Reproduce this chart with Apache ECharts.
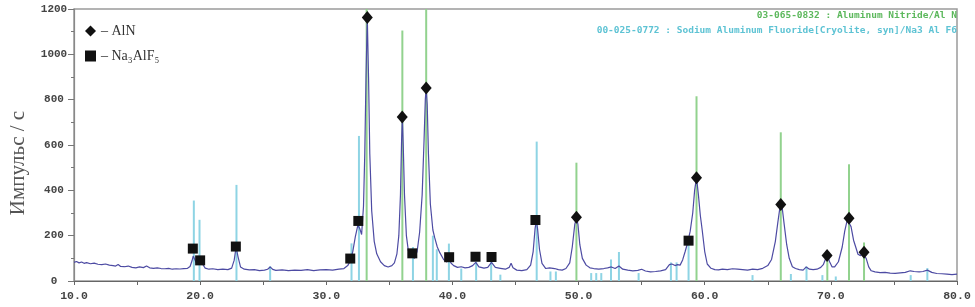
<!DOCTYPE html>
<html>
<head>
<meta charset="utf-8">
<script src="https://cdn.jsdelivr.net/npm/echarts@6/dist/echarts.min.js"></script>
<style>
html,body{margin:0;padding:0;background:#fff;}
#chart{width:975px;height:307px;}
</style>
</head>
<body>
<div id="chart"></div>
<script>
// Measured XRD pattern [2theta, counts]
const pattern = [[10.0,82],[10.2,86],[10.4,80],[10.6,84],[10.8,78],[11.0,81],[11.3,76],[11.6,79],[11.9,74],[12.2,72],[12.5,75],[12.8,70],[13.1,68],[13.3,66],[13.5,73],[13.7,64],[14.0,63],[14.3,66],[14.6,60],[14.9,58],[15.2,62],[15.5,59],[15.75,66],[16.0,58],[16.3,56],[16.6,58],[16.9,55],[17.2,54],[17.5,56],[17.8,52],[18.1,54],[18.4,53],[18.7,55],[19.0,56],[19.2,64],[19.35,88],[19.45,110],[19.6,92],[19.75,74],[19.9,86],[20.05,94],[20.2,74],[20.4,57],[20.7,52],[21.0,54],[21.4,50],[21.8,52],[22.2,50],[22.5,57],[22.7,92],[22.85,150],[23.0,108],[23.2,62],[23.5,52],[23.9,49],[24.3,50],[24.7,46],[25.1,48],[25.35,52],[25.55,62],[25.75,51],[26.0,47],[26.5,49],[27.0,46],[27.5,48],[28.0,47],[28.5,50],[29.0,46],[29.5,49],[30.0,50],[30.5,48],[31.0,52],[31.4,55],[31.7,68],[31.9,88],[32.1,130],[32.3,195],[32.5,245],[32.65,232],[32.8,205],[32.95,330],[33.05,560],[33.15,900],[33.25,1165],[33.35,900],[33.45,560],[33.6,310],[33.8,175],[34.0,120],[34.3,85],[34.6,68],[34.9,62],[35.2,68],[35.4,80],[35.6,120],[35.75,200],[35.88,380],[35.97,620],[36.03,723],[36.1,600],[36.2,380],[36.35,200],[36.5,135],[36.7,110],[36.85,114],[37.0,100],[37.2,130],[37.4,215],[37.6,380],[37.75,620],[37.85,800],[37.92,851],[38.0,780],[38.1,560],[38.25,340],[38.45,225],[38.6,190],[38.8,150],[39.0,125],[39.3,95],[39.55,84],[39.72,96],[39.9,78],[40.1,68],[40.4,60],[40.7,63],[41.0,58],[41.3,60],[41.6,68],[41.85,82],[42.1,62],[42.5,57],[42.8,60],[43.1,82],[43.4,60],[43.8,56],[44.2,52],[44.5,60],[44.65,78],[44.8,58],[45.1,48],[45.5,46],[45.9,50],[46.2,70],[46.4,130],[46.55,230],[46.65,268],[46.75,230],[46.9,140],[47.1,78],[47.4,55],[47.7,58],[47.85,63],[48.1,55],[48.4,50],[48.7,48],[49.0,55],[49.3,80],[49.5,150],[49.7,250],[49.83,280],[49.95,250],[50.1,160],[50.3,100],[50.6,70],[50.9,58],[51.2,55],[51.6,52],[52.0,55],[52.3,58],[52.6,62],[52.9,55],[53.2,66],[53.5,52],[53.9,48],[54.3,45],[54.7,47],[55.0,52],[55.3,44],[55.7,40],[56.1,42],[56.5,45],[56.9,50],[57.2,72],[57.4,75],[57.65,68],[57.85,72],[58.05,70],[58.25,93],[58.45,130],[58.65,170],[58.85,220],[59.05,300],[59.2,400],[59.35,456],[59.5,380],[59.65,290],[59.8,225],[60.0,130],[60.2,75],[60.5,56],[60.8,50],[61.1,49],[61.4,52],[61.8,50],[62.2,54],[62.6,52],[63.0,50],[63.4,48],[63.8,52],[64.2,50],[64.6,56],[65.0,68],[65.3,95],[65.6,175],[65.8,260],[65.95,320],[66.03,337],[66.15,320],[66.3,250],[66.5,160],[66.7,100],[66.95,63],[67.2,55],[67.5,50],[67.8,48],[68.05,62],[68.3,52],[68.6,50],[68.9,52],[69.2,60],[69.4,72],[69.6,100],[69.73,110],[69.9,85],[70.1,62],[70.3,62],[70.6,85],[70.9,150],[71.1,220],[71.3,270],[71.44,277],[71.6,240],[71.8,180],[71.97,150],[72.15,118],[72.35,112],[72.5,122],[72.63,127],[72.8,100],[73.0,62],[73.2,45],[73.5,40],[73.9,37],[74.3,38],[74.7,35],[75.1,34],[75.5,36],[75.9,38],[76.3,45],[76.6,42],[77.0,40],[77.3,42],[77.65,48],[78.0,38],[78.4,33],[78.8,32],[79.2,30],[79.6,28],[80.0,30]];

// Reference sticks: AlN (03-065-0832)
const alnSticks = [[33.2,1300],[36.03,1105],[37.92,1300],[49.83,522],[59.35,815],[66.03,656],[69.72,100],[71.44,515],[72.63,170]];
// Reference sticks: cryolite (00-025-0772)
const cryoSticks = [[19.5,355],[19.95,270],[22.88,424],[25.55,65],[32.0,166],[32.59,640],[36.87,150],[38.45,200],[38.76,140],[39.72,165],[40.7,55],[41.88,85],[43.07,85],[43.8,28],[46.68,615],[47.77,42],[48.2,42],[51.0,35],[51.4,35],[51.8,35],[52.57,95],[53.2,128],[54.76,35],[57.32,82],[57.77,82],[58.72,190],[63.79,26],[66.83,31],[68.07,64],[69.33,26],[70.39,20],[76.33,26],[77.65,57]];

// Phase markers
const alnMarks = [[33.25,1162],[36.02,723],[37.92,851],[49.83,281],[59.35,456],[66.03,337],[69.70,112],[71.44,277],[72.63,127]];
const naMarks = [[19.42,143],[20.0,91],[22.83,152],[31.9,99],[32.54,265],[36.82,122],[39.74,105],[41.83,107],[43.1,106],[46.58,269],[58.72,178]];

const xTicks = {min:10, max:80, interval:10};
const yTicks = {min:0, max:1200, interval:200};

const chart = echarts.init(document.getElementById('chart'), null, {renderer:'canvas'});

function stickRenderer(color){
  return function(params, api){
    const x = api.value(0), h = api.value(1);
    const p0 = api.coord([x, 0]);
    const p1 = api.coord([x, h]);
    return {type:'line', shape:{x1:p0[0], y1:p0[1], x2:p1[0], y2:p1[1]},
      style:{stroke:color, lineWidth:2}};
  };
}

chart.setOption({
  animation:false,
  backgroundColor:'#fff',
  grid:{left:74, right:18, top:9, bottom:26, show:true, borderColor:'#9a9a9a', borderWidth:1.5},
  xAxis:{type:'value', min:xTicks.min, max:xTicks.max, interval:xTicks.interval,
    axisLine:{show:true, lineStyle:{color:'#666', width:1.2}},
    axisTick:{show:true, length:4, lineStyle:{color:'#666'}},
    minorTick:{show:true, splitNumber:2, length:4, lineStyle:{color:'#666'}},
    splitLine:{show:false},
    axisLabel:{formatter:v=>v.toFixed(1), color:'#444', fontFamily:'Liberation Mono', fontWeight:'bold', fontSize:11.5, margin:9}
  },
  yAxis:{type:'value', min:yTicks.min, max:yTicks.max, interval:yTicks.interval,
    axisLine:{show:true, lineStyle:{color:'#888', width:1.2}},
    axisTick:{show:true, length:6, lineStyle:{color:'#777'}},
    minorTick:{show:true, splitNumber:2, length:3, lineStyle:{color:'#777'}},
    splitLine:{show:false},
    axisLabel:{formatter:v=>String(v), color:'#444', fontFamily:'Liberation Mono', fontWeight:'bold', fontSize:11, margin:20, align:'center', padding:[0,0,6,0]}
  },
  legend:{orient:'vertical', left:80, top:19, itemWidth:11, itemHeight:11, itemGap:11,
    data:[{name:'AlN', icon:'diamond'},{name:'Na₃AlF₅', icon:'rect'}],
    formatter:n=>'– '+n,
    textStyle:{fontFamily:'Liberation Serif', fontSize:14, color:'#333'},
    selectedMode:false
  },
  graphic:[
    {type:'text', x:957, y:16, style:{text:'03-065-0832 : Aluminum Nitride/Al N', font:'bold 9.5px "DejaVu Sans Mono"', fill:'#5cb85c', align:'right', verticalAlign:'middle'}},
    {type:'text', x:957, y:31, style:{text:'00-025-0772 : Sodium Aluminum Fluoride[Cryolite, syn]/Na3 Al F6', font:'bold 9.5px "DejaVu Sans Mono"', fill:'#5ec3d4', align:'right', verticalAlign:'middle'}},
    {type:'text', x:18, y:163, rotation:Math.PI/2, style:{text:'Импульс / с', font:'21px "Liberation Serif"', fill:'#555', align:'center', verticalAlign:'middle'}}
  ],
  series:[
    {type:'custom', name:'cryo', data:cryoSticks, renderItem:stickRenderer('#8ed4e4'), clip:true, z:1, silent:true},
    {type:'custom', name:'alnref', data:alnSticks, renderItem:stickRenderer('#92d28e'), clip:true, z:1, silent:true},
    {type:'line', name:'pattern', data:pattern, showSymbol:false, symbol:'none', lineStyle:{color:'#4d4ba3', width:1.2}, z:2, silent:true},
    {type:'scatter', name:'AlN', data:alnMarks, symbol:'diamond', symbolSize:[11,13], itemStyle:{color:'#111', opacity:1}, z:3},
    {type:'scatter', name:'Na₃AlF₅', data:naMarks, symbol:'rect', symbolSize:10, itemStyle:{color:'#111', opacity:1}, z:3}
  ]
});
</script>
</body>
</html>
